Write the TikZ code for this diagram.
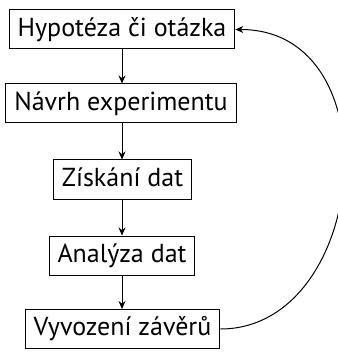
\documentclass[tikz,border=0pt]{standalone}
\usepackage{fontspec}
\setmainfont{PT Sans}
\usetikzlibrary{arrows.meta}
\begin{document}
\begin{tikzpicture}[x=1pt,y=-1pt,
  stepbox/.style={draw,line width=1pt,font=\fontsize{26}{28}\selectfont,inner xsep=8.5pt,inner ysep=0pt,minimum height=39pt,text height=18.5pt,text depth=5pt},
  conn/.style={line width=1pt,-{Stealth[length=8pt,width=7pt]}}]
\useasboundingbox (0,0) rectangle (337,352);
\node[stepbox] (a) at (122,29.5) {Hypotéza či otázka};
\node[stepbox] (b) at (121,103.5) {Návrh experimentu};
\node[stepbox] (c) at (122.5,179.5) {Získání dat};
\node[stepbox] (d) at (122,255.5) {Analýza dat};
\node[stepbox] (e) at (122.5,329) {Vyvození závěrů};
\draw[conn] (a) -- (a |- b.north);
\draw[conn] (a |- b.south) -- (a |- c.north);
\draw[conn] (a |- c.south) -- (a |- d.north);
\draw[conn] (a |- d.south) -- (a |- e.north);
\draw[conn] (e.east) .. controls (368,329) and (395,29.5) .. (a.east);
\end{tikzpicture}
\end{document}
